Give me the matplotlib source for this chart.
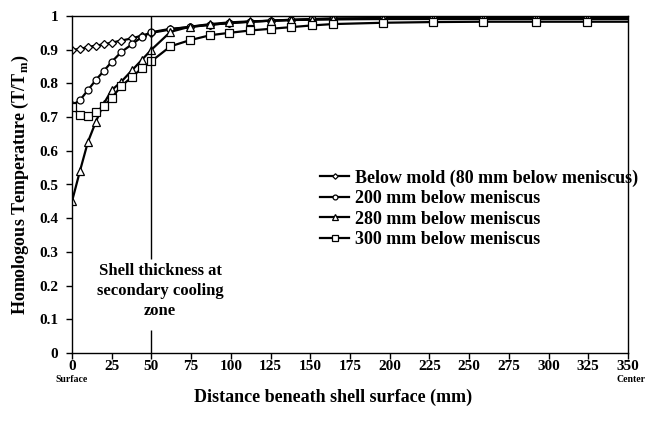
import numpy as np
import matplotlib.pyplot as plt

# distance beneath shell surface (mm)
dist = [0, 5, 10, 15, 20, 25, 31, 38, 44, 50, 62, 74, 87, 99, 112, 125,
        138, 151, 164, 196, 227, 259, 292, 324, 350]

# homologous temperature T/Tm
below_mold = [0.900, 0.902, 0.908, 0.912, 0.916, 0.921, 0.927, 0.934, 0.942, 0.950,
              0.960, 0.968, 0.974, 0.979, 0.983, 0.986, 0.989, 0.991, 0.993, 0.994,
              0.995, 0.995, 0.995, 0.995, 0.995]
mm200 = [0.735, 0.750, 0.780, 0.810, 0.837, 0.864, 0.893, 0.917, 0.938, 0.952,
         0.962, 0.967, 0.974, 0.979, 0.983, 0.986, 0.988, 0.990, 0.991, 0.992,
         0.993, 0.993, 0.993, 0.993, 0.993]
mm280 = [0.450, 0.540, 0.626, 0.686, 0.740, 0.780, 0.805, 0.840, 0.870, 0.900,
         0.953, 0.968, 0.976, 0.981, 0.984, 0.986, 0.988, 0.989, 0.990, 0.991,
         0.991, 0.991, 0.991, 0.991, 0.991]
mm300 = [0.730, 0.706, 0.703, 0.716, 0.733, 0.757, 0.792, 0.820, 0.845, 0.866,
         0.910, 0.928, 0.943, 0.950, 0.957, 0.962, 0.967, 0.972, 0.976, 0.980,
         0.982, 0.983, 0.983, 0.983, 0.983]

labels = ['Below mold (80 mm below meniscus)', '200 mm below meniscus',
          '280 mm below meniscus', '300 mm below meniscus']
markers = ['D', 'o', '^', 's']
sizes = [4, 5, 5.5, 5.5]
shell_x = 50

plt.rcParams['font.family'] = ['Liberation Serif', 'DejaVu Serif']
plt.rcParams['font.weight'] = 'bold'

fig = plt.figure(figsize=(6.46, 4.23), dpi=100)
ax = fig.add_axes([72 / 646, 1 - 353 / 423, 556 / 646, 337 / 423])

for y, lab, m, s in zip([below_mold, mm200, mm280, mm300], labels, markers, sizes):
    ax.plot(dist, y, color='black', lw=1.6, marker=m, ms=s, mfc='white',
            mec='black', mew=0.9, label=lab, markevery=slice(0, -1))

ax.vlines(shell_x, 0, 0.068, color='black', lw=1.0)
ax.vlines(shell_x, 0.28, 1, color='black', lw=1.0)
ax.text(shell_x + 5.5, 0.184, 'Shell thickness at\nsecondary cooling\nzone',
        ha='center', va='center', fontsize=12, fontweight='bold', linespacing=1.3)

ax.set_xlim(0, 350)
ax.set_ylim(0, 1)
ax.set_xticks(np.arange(0, 351, 25))
ax.set_yticks(np.arange(0, 1.01, 0.1))
ax.set_yticklabels(['0', '0.1', '0.2', '0.3', '0.4', '0.5', '0.6', '0.7', '0.8', '0.9', '1'])
ax.tick_params(direction='out', length=4, width=1, labelsize=11)
ax.tick_params(axis='x', pad=1)
ax.tick_params(axis='y', pad=6)
for sp in ax.spines.values():
    sp.set_linewidth(1)

ax.set_ylabel('Homologous Temperature (T/T$_\\mathregular{m}$)', fontsize=13,
              fontweight='bold', labelpad=6)
ax.set_xlabel('Distance beneath shell surface (mm)', fontsize=13, fontweight='bold')
ax.xaxis.set_label_coords(0.47, -0.105)
ax.text(0, -0.066, 'Surface', ha='center', va='top', fontsize=7, fontweight='bold')
ax.text(352, -0.066, 'Center', ha='center', va='top', fontsize=7, fontweight='bold')

ax.legend(loc='upper left', bbox_to_anchor=(0.44, 0.556), frameon=False,
          fontsize=13, handlelength=1.6, handletextpad=0.3, labelspacing=0.2,
          markerscale=0.7, borderaxespad=0, borderpad=0.2)

fig.savefig('out.png', dpi=100)
